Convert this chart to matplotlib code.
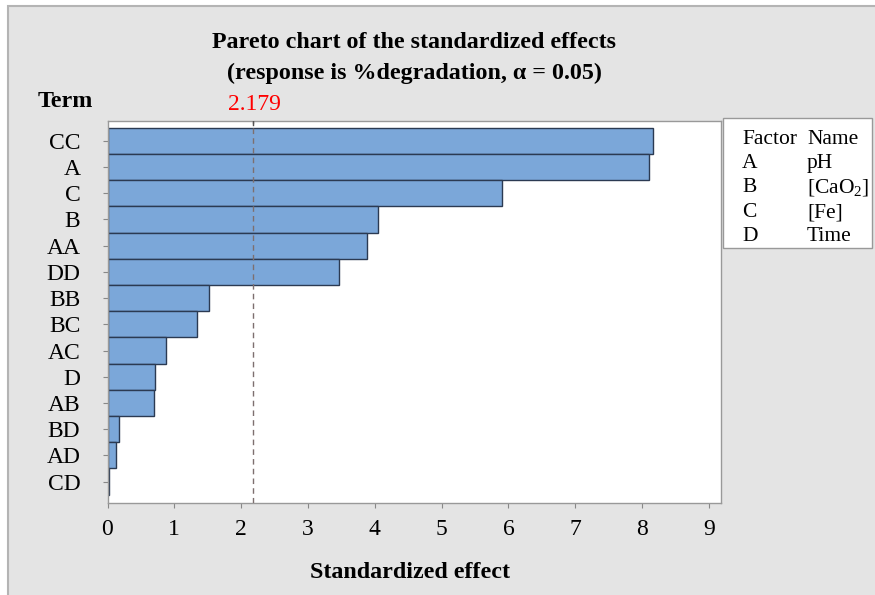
import matplotlib
matplotlib.use("Agg")
import matplotlib.pyplot as plt
from matplotlib.patches import Rectangle

# Standardized effects, largest first (Pareto order)
terms = ["CC", "A", "C", "B", "AA", "DD", "BB", "BC", "AC", "D", "AB", "BD", "AD", "CD"]
effects = [8.16, 8.10, 5.91, 4.05, 3.89, 3.46, 1.52, 1.34, 0.875, 0.71, 0.69, 0.17, 0.13, 0.02]
t_crit = 2.179
x_ticks = list(range(0, 10))

factor_codes = ["A", "B", "C", "D"]
factor_names = ["pH", "[CaO$_2$]", "[Fe]", "Time"]

plt.rcParams["font.family"] = ["Liberation Serif", "DejaVu Serif"]
plt.rcParams["mathtext.fontset"] = "custom"
plt.rcParams["mathtext.rm"] = "Liberation Serif"

W, H = 875, 595
fig = plt.figure(figsize=(W / 100, H / 100), dpi=100, facecolor="white")

# grey panel behind everything (runs off the right and bottom edges)
fig.patches.append(Rectangle((8 / W, -0.1), 1.2, 1.1 - 6 / H, transform=fig.transFigure,
                             facecolor="#e4e4e4", edgecolor="#b4b4b4", linewidth=1.5, zorder=-10))

ax = fig.add_axes([107.5 / W, 1 - 502.5 / H, (721 - 107.5) / W, (502.5 - 120.7) / H])
ax.set_facecolor("white")

ypos = list(range(len(terms)))
ax.barh(ypos, effects, height=1.0, color="#7ba7d9", edgecolor="#2b3a52", linewidth=1.0, zorder=2)
ax.axvline(t_crit, color="#7d6f6f", linestyle=(0, (4, 3)), linewidth=1.0, zorder=3)
ax.plot([t_crit, t_crit], [-0.77, -0.6], color="#555555", linewidth=1.0, zorder=4)

ax.set_xlim(0, 9.18)
ax.set_ylim(len(terms) - 0.5 + 0.3, -0.5 - 0.27)
ax.set_xticks(x_ticks)
ax.set_yticks(ypos)
ax.set_yticklabels(terms)
ax.tick_params(axis="y", length=3.6, pad=16, color="#888888", labelsize=17)
ax.tick_params(axis="x", length=3.6, pad=8, color="#888888", labelsize=17)
for sp in ax.spines.values():
    sp.set_color("#999999")
    sp.set_linewidth(1.0)

fig.text(414 / W, 1 - 43 / H, "Pareto chart of the standardized effects",
         ha="center", va="center", fontsize=17.3, fontweight="bold")
fig.text(414 / W, 1 - 73 / H, "(response is %degradation, \u03b1 = 0.05)",
         ha="center", va="center", fontsize=17.3, fontweight="bold")
fig.text(65 / W, 1 - 101 / H, "Term", ha="center", va="center", fontsize=17.3, fontweight="bold")
fig.text(254 / W, 1 - 105 / H, f"{t_crit}", ha="center", va="center", fontsize=17, color="red")
fig.text(410 / W, 1 - 573 / H, "Standardized effect", ha="center", va="center",
         fontsize=17.3, fontweight="bold")

# factor key box
fig.patches.append(Rectangle((723 / W, 1 - 248 / H), (871.5 - 723) / W, (248 - 117.5) / H,
                             transform=fig.transFigure, facecolor="white",
                             edgecolor="#999999", linewidth=1.0, zorder=1))
key_rows = [("Factor", "Name")] + list(zip(factor_codes, factor_names))
for i, (code, name) in enumerate(key_rows):
    y = 1 - (139 + i * 24.5) / H
    fig.text(742 / W, y, code, ha="left", va="center", fontsize=15.5)
    fig.text(807 / W, y, name, ha="left", va="center", fontsize=15.5)

fig.savefig("out.png", dpi=100)
